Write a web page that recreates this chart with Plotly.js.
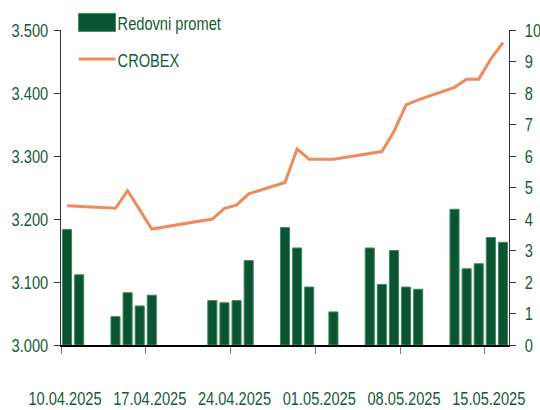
<!DOCTYPE html>
<html>
<head>
<meta charset="utf-8">
<script src="https://cdn.plot.ly/plotly-3.0.1.min.js"></script>
<style>html,body{margin:0;padding:0;background:#fff;}#chart{width:540px;height:410px;}</style>
</head>
<body>
<div id="chart"></div>
<script>
// Trading days
const dates = [
  '2025-04-10','2025-04-11','2025-04-14','2025-04-15','2025-04-16','2025-04-17',
  '2025-04-22','2025-04-23','2025-04-24','2025-04-25',
  '2025-04-28','2025-04-29','2025-04-30','2025-05-02',
  '2025-05-05','2025-05-06','2025-05-07','2025-05-08','2025-05-09',
  '2025-05-12','2025-05-13','2025-05-14','2025-05-15','2025-05-16'
];
// Redovni promet (right axis)
const promet = [
  3.67, 2.23, 0.90, 1.66, 1.24, 1.58,
  1.41, 1.34, 1.41, 2.68,
  3.73, 3.08, 1.84, 1.05,
  3.08, 1.92, 3.00, 1.84, 1.77,
  4.31, 2.42, 2.58, 3.41, 3.26
];
// CROBEX (left axis)
const crobex = [
  3221, 3220, 3217, 3245, 3215, 3184,
  3200, 3217, 3222, 3240,
  3258, 3311, 3295, 3295,
  3304, 3307, 3339, 3381, 3389,
  3409, 3422, 3422, 3454, 3480
];
const tickDates = ['2025-04-10','2025-04-17','2025-04-24','2025-05-01','2025-05-08','2025-05-15'];
const tickLabels = ['10.04.2025','17.04.2025','24.04.2025','01.05.2025','08.05.2025','15.05.2025'];

const DAY = 86400000;
const green = '#135c37';
const font = 'Liberation Sans, Arial, sans-serif';
const FS = 19;

const traces = [
  {
    type: 'bar', name: 'Redovni promet', x: dates, y: promet, yaxis: 'y2',
    legendgroup: 'a',
    xperiod: DAY, xperiodalignment: 'middle', width: 0.75 * DAY,
    marker: {color: '#0b5431', line: {color: '#3d8a5e', width: 1}}
  },
  {
    type: 'scatter', mode: 'lines', name: 'CROBEX', x: dates, y: crobex, yaxis: 'y',
    legendgroup: 'b',
    xperiod: DAY, xperiodalignment: 'middle',
    line: {color: '#ef8a5c', width: 3}
  }
];

const layout = {
  width: 540, height: 410,
  margin: {l: 61, r: 31, t: 30, b: 65, autoexpand: false},
  paper_bgcolor: '#fff', plot_bgcolor: '#fff',
  separators: ',.',
  font: {family: font, size: FS, color: green},
  showlegend: true,
  legend: {x: 0.037, y: 1.084, xanchor: 'left', yanchor: 'top', bgcolor: 'rgba(0,0,0,0)',
           font: {family: font, size: FS, color: green}, itemwidth: 30, tracegroupgap: 9},
  bargap: 0,
  xaxis: {
    type: 'date', range: ['2025-04-10', '2025-05-17'],
    tickmode: 'array', tickvals: tickDates, ticktext: tickLabels, tickangle: 0,
    ticks: 'outside', ticklen: 7, tickcolor: '#777', tickwidth: 1,
    showline: true, linecolor: '#000', linewidth: 1.5, showgrid: false, zeroline: false,
    ticklabelstandoff: 29, ticklabelshift: 4,
    tickfont: {family: font, size: FS, color: green}
  },
  yaxis: {
    range: [3000, 3500], dtick: 100, tick0: 3000, tickformat: ',d',
    ticks: 'outside', ticklen: 6, tickcolor: '#333',
    showline: true, linecolor: '#333', linewidth: 1, showgrid: false, zeroline: false,
    ticklabelstandoff: 2,
    tickfont: {family: font, size: FS, color: green}
  },
  yaxis2: {
    overlaying: 'y', side: 'right', range: [0, 10], dtick: 1, tick0: 0,
    ticks: 'outside', ticklen: 6, tickcolor: '#333',
    showline: true, linecolor: '#333', linewidth: 1, showgrid: false, zeroline: false,
    ticklabelstandoff: 5,
    tickfont: {family: font, size: FS, color: green}
  }
};

function narrowText(gd) {
  // narrow the typeface look (reference uses a condensed sans)
  gd.querySelectorAll('text').forEach(function (t) {
    if (t.getAttribute('data-narrowed')) return;
    const L = t.getComputedTextLength();
    if (L > 0) {
      t.setAttribute('textLength', (L * 0.77).toFixed(2));
      t.setAttribute('lengthAdjust', 'spacingAndGlyphs');
      t.setAttribute('data-narrowed', '1');
    }
  });
}

function widenSwatches(gd) {
  // wide legend swatches like the reference
  gd.querySelectorAll('g.legend g.traces').forEach(function (g) {
    const txt = g.querySelector('text');
    const tx = txt ? (parseFloat(txt.getAttribute('x')) || 40) : 40;
    const x0 = tx - 39, x1 = tx - 2;
    g.querySelectorAll('path').forEach(function (p) {
      const d = p.getAttribute('d') || '';
      if (/^M6,6H-6V-6H6Z/.test(d) || p.classList.contains('legendbar')) {
        p.removeAttribute('transform');
        p.setAttribute('d', 'M' + x0 + ',-9H' + x1 + 'V9H' + x0 + 'Z');
      } else if (/^M5,0h/.test(d) || p.classList.contains('js-line')) {
        p.removeAttribute('transform');
        p.setAttribute('d', 'M' + x0 + ',0H' + x1);
      }
    });
  });
}

Plotly.newPlot('chart', traces, layout, {displayModeBar: false, staticPlot: true}).then(function (gd) {
  narrowText(gd);
  widenSwatches(gd);
  requestAnimationFrame(function () { narrowText(gd); widenSwatches(gd); });
});
</script>
</body>
</html>
